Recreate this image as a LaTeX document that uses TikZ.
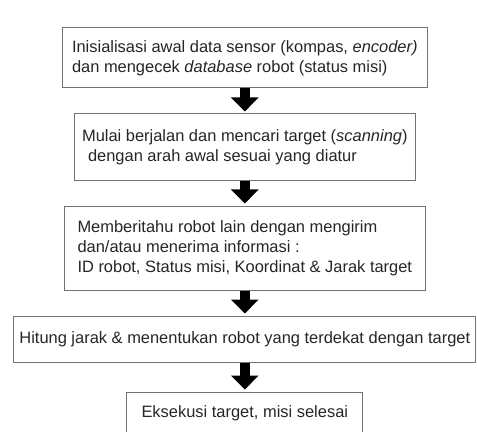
\documentclass[tikz,border=0pt]{standalone}
\usepackage{fontspec}
\setmainfont{Liberation Sans}
\usetikzlibrary{arrows.meta}

\tikzset{kotak/.style={draw=black!55, line width=0.025cm, text=black!85, inner sep=0pt, align=left, font=\fontsize{11.7}{14.2}\selectfont},
panah/.style={black, line width=0.25cm, -{Triangle[width=0.675cm,length=0.35cm]}, shorten >=0.05cm}}

\begin{document}
\begin{tikzpicture}
\useasboundingbox (0,0) rectangle (11.925,-10.8);
\fill[white] (0,0) rectangle (11.925,-10.8);

\node[kotak, minimum width=9.125cm, minimum height=1.5cm] (b1) at (6.12,-1.45) {Inisialisasi awal data sensor (kompas, \textit{encoder)}\\dan mengecek \textit{database} robot (status misi)};
\node[kotak, minimum width=8.525cm, minimum height=1.65cm] (b2) at (6.12,-3.675) {Mulai berjalan dan mencari target (\textit{scanning})\\\hspace*{0.15cm}dengan arah awal sesuai yang diatur};
\node[kotak, minimum width=9.025cm, minimum height=2.1cm] (b3) at (6.12,-6.2) {Memberitahu robot lain dengan mengirim\\dan/atau menerima informasi :\\ID robot, Status misi, Koordinat \& Jarak target};
\node[kotak, minimum width=11.55cm, minimum height=1.15cm] (b4) at (6.12,-8.475) {Hitung jarak \& menentukan robot yang terdekat dengan target};
\node[kotak, minimum width=5.9cm, minimum height=1.05cm] (b5) at (6.12,-10.325) {Eksekusi target, misi selesai};

\draw[panah] (b1) -- (b2);
\draw[panah] (b2) -- (b3);
\draw[panah] (b3) -- (b4);
\draw[panah] (b4) -- (b5);
\end{tikzpicture}
\end{document}
